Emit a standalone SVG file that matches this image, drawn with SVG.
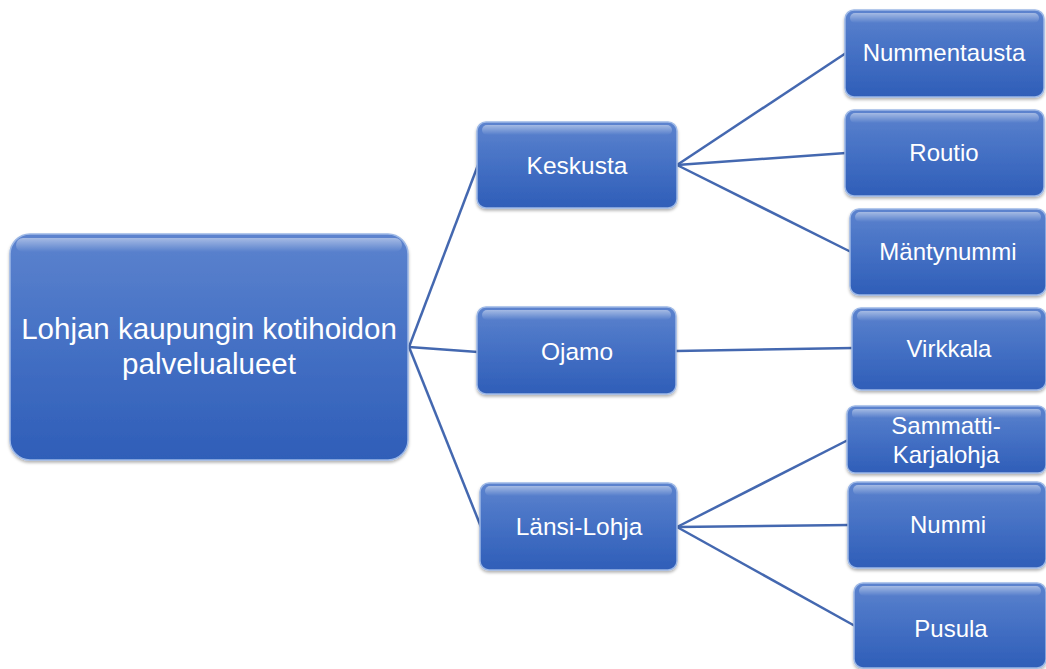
<svg xmlns="http://www.w3.org/2000/svg" width="1046" height="669" viewBox="0 0 1046 669">
<defs>
<linearGradient id="fillG" x1="0" y1="0" x2="0" y2="1">
<stop offset="0" stop-color="#5C83CE"/>
<stop offset="0.5" stop-color="#4470C4"/>
<stop offset="1" stop-color="#2F5EB8"/>
</linearGradient>
<linearGradient id="hiG" x1="0" y1="0" x2="0" y2="1">
<stop offset="0" stop-color="#ffffff" stop-opacity="0.45"/>
<stop offset="1" stop-color="#ffffff" stop-opacity="0"/>
</linearGradient>
<filter id="sh" x="-10%" y="-10%" width="120%" height="130%">
<feDropShadow dx="0" dy="2" stdDeviation="1.5" flood-color="#000" flood-opacity="0.3"/>
</filter>
</defs>
<style>
.box{fill:url(#fillG);stroke:#9DB8E6;stroke-width:1.5;filter:url(#sh)}
.hi{fill:url(#hiG)}
.t{font-family:"Liberation Sans",Arial,sans-serif;fill:#ffffff;text-anchor:middle}
.c{stroke:#4468B0;stroke-width:2.5;fill:none}
</style>
<g id="connectors">
<line class="c" x1="409" y1="347" x2="478" y2="165"/>
<line class="c" x1="409" y1="347" x2="478" y2="352"/>
<line class="c" x1="409" y1="347" x2="481" y2="527"/>
<line class="c" x1="677" y1="165" x2="846" y2="53"/>
<line class="c" x1="677" y1="165" x2="846" y2="153"/>
<line class="c" x1="677" y1="165" x2="851" y2="252"/>
<line class="c" x1="676" y1="351" x2="853" y2="348"/>
<line class="c" x1="677" y1="527" x2="848" y2="440"/>
<line class="c" x1="677" y1="527" x2="849" y2="525"/>
<line class="c" x1="677" y1="527" x2="855" y2="626"/>
</g>
<g id="root">
<rect class="box" x="10" y="234" width="398" height="226" rx="20"/>
<rect class="hi" x="16" y="238" width="386" height="14" rx="7"/>
<text class="t" x="209" y="339" font-size="29.5">Lohjan kaupungin kotihoidon</text>
<text class="t" x="209" y="374" font-size="29.5">palvelualueet</text>
</g>
<g id="keskusta">
<rect class="box" x="477" y="122" width="200" height="86" rx="9"/>
<rect class="hi" x="482" y="125" width="190" height="10" rx="5"/>
<text class="t" x="577" y="174" font-size="24.5">Keskusta</text>
</g>
<g id="ojamo">
<rect class="box" x="477" y="307" width="199" height="87" rx="9"/>
<rect class="hi" x="482" y="310" width="189" height="10" rx="5"/>
<text class="t" x="577" y="360" font-size="24.5">Ojamo</text>
</g>
<g id="lansi-lohja">
<rect class="box" x="480" y="483" width="197" height="87" rx="9"/>
<rect class="hi" x="485" y="486" width="187" height="10" rx="5"/>
<text class="t" x="579" y="535" font-size="24.5">Länsi-Lohja</text>
</g>
<g id="nummentausta">
<rect class="box" x="845" y="10" width="199" height="87" rx="9"/>
<rect class="hi" x="850" y="13" width="189" height="10" rx="5"/>
<text class="t" x="944" y="61" font-size="24">Nummentausta</text>
</g>
<g id="routio">
<rect class="box" x="845" y="110" width="199" height="86" rx="9"/>
<rect class="hi" x="850" y="113" width="189" height="10" rx="5"/>
<text class="t" x="944" y="161" font-size="24">Routio</text>
</g>
<g id="mantynummi">
<rect class="box" x="850" y="209" width="196" height="86" rx="9"/>
<rect class="hi" x="855" y="212" width="186" height="10" rx="5"/>
<text class="t" x="948" y="260" font-size="24">Mäntynummi</text>
</g>
<g id="virkkala">
<rect class="box" x="852" y="308" width="194" height="82" rx="9"/>
<rect class="hi" x="857" y="311" width="184" height="10" rx="5"/>
<text class="t" x="949" y="357" font-size="24">Virkkala</text>
</g>
<g id="sammatti">
<rect class="box" x="847" y="406" width="199" height="67" rx="8"/>
<rect class="hi" x="852" y="409" width="189" height="9" rx="4"/>
<text class="t" x="946" y="434" font-size="24">Sammatti-</text>
<text class="t" x="946" y="463" font-size="24">Karjalohja</text>
</g>
<g id="nummi">
<rect class="box" x="848" y="482" width="198" height="86" rx="9"/>
<rect class="hi" x="853" y="485" width="188" height="10" rx="5"/>
<text class="t" x="948" y="533" font-size="24">Nummi</text>
</g>
<g id="pusula">
<rect class="box" x="854" y="583" width="192" height="85" rx="9"/>
<rect class="hi" x="859" y="586" width="182" height="10" rx="5"/>
<text class="t" x="951" y="637" font-size="24">Pusula</text>
</g>
</svg>
